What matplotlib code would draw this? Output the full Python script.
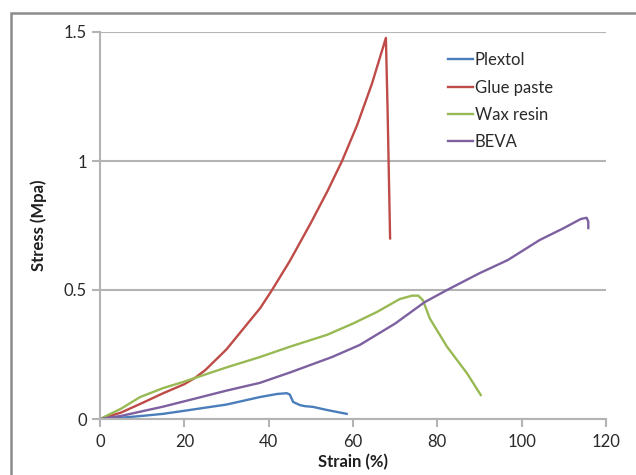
import matplotlib.pyplot as plt
from matplotlib.patches import Rectangle

plt.rcParams['font.family'] = ['Lato', 'DejaVu Sans']

# Plextol
plextol_x = [0, 5, 10, 15, 21.3, 30, 37.9, 42, 44.3, 45, 45.8, 47.4, 48.5, 50.5, 53.8, 58.5]
plextol_y = [0, 0.005, 0.012, 0.02, 0.035, 0.056, 0.085, 0.097, 0.1, 0.095, 0.066, 0.054, 0.05, 0.047, 0.035, 0.02]

# Glue paste
glue_x = [0, 5, 10, 15, 20, 22.5, 25, 30, 35, 38, 40.8, 45, 50, 54, 57.4, 61, 64.5, 67.8, 68.2, 68.8]
glue_y = [0, 0.025, 0.062, 0.10, 0.135, 0.159, 0.19, 0.27, 0.37, 0.43, 0.5, 0.612, 0.76, 0.885, 1.0, 1.14, 1.3, 1.477, 1.2, 0.70]

# Wax resin
wax_x = [0, 5, 9.5, 15, 20, 22.5, 30, 37.9, 45, 53.8, 60, 65.7, 71.1, 74, 75.5, 76.6, 78.2, 82.3, 87, 90.3]
wax_y = [0, 0.04, 0.085, 0.12, 0.145, 0.159, 0.2, 0.24, 0.28, 0.326, 0.37, 0.415, 0.465, 0.478, 0.478, 0.46, 0.39, 0.28, 0.178, 0.093]

# BEVA
beva_x = [0, 5, 10, 15, 21.3, 30, 37.9, 45, 55, 61.6, 70, 77, 82.3, 90, 96.7, 104.3, 110, 114, 115.4, 115.8, 115.8]
beva_y = [0, 0.012, 0.03, 0.048, 0.074, 0.11, 0.14, 0.18, 0.24, 0.287, 0.37, 0.453, 0.5, 0.565, 0.616, 0.694, 0.74, 0.775, 0.78, 0.765, 0.74]

fig = plt.figure(figsize=(6.36, 4.75), dpi=100)
ax = fig.add_axes([100/636, 1 - 419/475, 506/636, 387/475])

ax.plot(plextol_x, plextol_y, color='#4A7EBB', lw=1.7, label='Plextol')
ax.plot(glue_x, glue_y, color='#BE4B48', lw=1.7, label='Glue paste')
ax.plot(wax_x, wax_y, color='#98B954', lw=1.7, label='Wax resin')
ax.plot(beva_x, beva_y, color='#7D60A0', lw=1.7, label='BEVA')

ax.set_xlim(0, 120)
ax.set_ylim(0, 1.5)
ax.set_xticks([0, 20, 40, 60, 80, 100, 120])
ax.set_yticks([0, 0.5, 1, 1.5])
ax.set_yticklabels(['0', '0.5', '1', '1.5'])
ax.yaxis.grid(True, color='#b4b4b4', lw=1.5)
ax.set_axisbelow(True)
for s in ['top', 'right']:
    ax.spines[s].set_visible(False)
for s in ['left', 'bottom']:
    ax.spines[s].set_color('#b4b4b4')
    ax.spines[s].set_linewidth(1.5)
ax.tick_params(colors='#b4b4b4', width=1.5, length=6, labelsize=12, labelcolor='#2a2a2a')
ax.tick_params(axis='x', pad=5)

ax.set_xlabel('Strain (%)', fontsize=12, fontweight='bold', color='#1e1e1e', labelpad=3)
ax.set_ylabel('Stress (Mpa)', fontsize=12, fontweight='bold', color='#1e1e1e', labelpad=12)

leg = ax.legend(loc='upper left', bbox_to_anchor=(440/636, 1 - 44/475), bbox_transform=fig.transFigure,
                frameon=False, fontsize=12, handlelength=1.5, handletextpad=0.1, labelspacing=0.68,
                borderpad=0)
for t in leg.get_texts():
    t.set_color('#2a2a2a')

# chart area border
fig.patches.append(Rectangle((11/636, -0.1), 1.1, 1 - 13/475 + 0.1, transform=fig.transFigure,
                             fill=False, edgecolor='#8c8c8c', lw=1.8))

fig.savefig('out.png', dpi=100)
